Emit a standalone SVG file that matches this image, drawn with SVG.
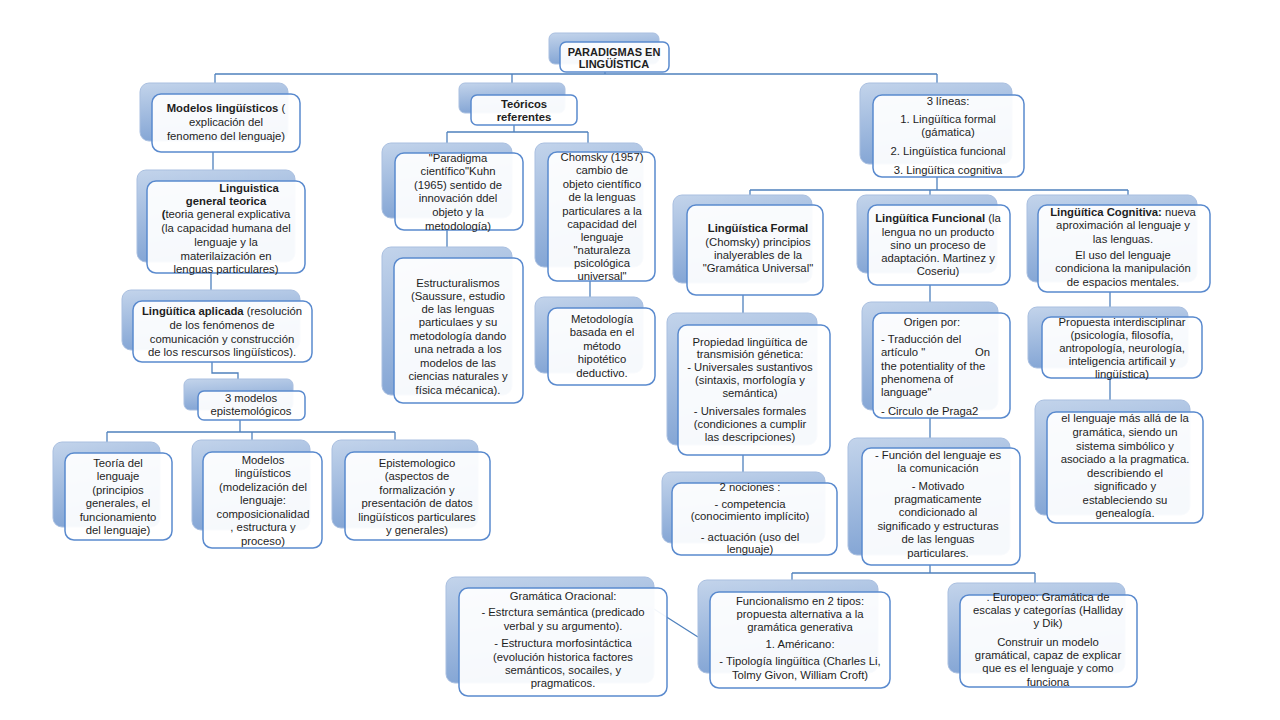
<svg xmlns="http://www.w3.org/2000/svg" width="1280" height="720" viewBox="0 0 1280 720">
<defs>
<linearGradient id="bg" x1="0" y1="0" x2="0.25" y2="1">
<stop offset="0" stop-color="#c3d4eb"/>
<stop offset="1" stop-color="#82a4d4"/>
</linearGradient>
<style>
.b{fill:url(#bg);stroke:#a9bfe0;stroke-width:1}
.f{fill:#ffffff;fill-opacity:0.93;stroke:#5a8ace;stroke-width:1.5}
text{font-family:"Liberation Sans",Arial,sans-serif;font-size:11.3px;fill:#1e1e1e;text-anchor:middle}
.bd{font-weight:bold}
.t{font-size:11px}
.l{text-anchor:start}
.c{fill:none;stroke:#4f81bd;stroke-width:1.3}
</style>
</defs>
<rect width="1280" height="720" fill="#ffffff"/>
<g id="connectors">
<path class="c" d="M605,72V74M215,74H937M215,74V83M512,74V83M937,74V83"/>
<path class="c" d="M213,152V170M211,273V290M212,362V373H238V380"/>
<path class="c" d="M240,420V432M107,432H395M107,432V442M252,432V440M395,432V440"/>
<path class="c" d="M514,125V132M447,132H588M447,132V143M588,132V143M447,230V247M590,281V297"/>
<path class="c" d="M937,177V190M750,190H1128M750,190V195M930,190V195M1128,190V195"/>
<path class="c" d="M743,295V313M743,455V472M930,285V302M930,418V438M1110,292V307M1110,378V400"/>
<path class="c" d="M930,565V573M792,573H1035M792,573V580M1035,573V583M654,609L698,637"/>
</g>
<g id="root">
<rect class="b" x="549" y="33" width="110" height="31" rx="6"/>
<rect class="f" x="560" y="42" width="109" height="30" rx="6"/>
<text class="bd t" x="614" y="56">PARADIGMAS EN</text>
<text class="bd t" x="614" y="68">LINGÜÍSTICA</text>
</g>
<g id="modelos">
<rect class="b" x="140" y="83" width="148" height="58" rx="9"/>
<rect class="f" x="152" y="94" width="148" height="58" rx="9"/>
<text x="226" y="112"><tspan class="bd">Modelos lingüísticos</tspan> (</text>
<text x="226" y="126">explicación del</text>
<text x="226" y="140">fenomeno del lenguaje)</text>
</g>
<g id="teoricos">
<rect class="b" x="459" y="83" width="106" height="30" rx="6"/>
<rect class="f" x="471" y="95" width="106" height="30" rx="6"/>
<text class="bd" x="524" y="108">Teóricos</text>
<text class="bd" x="524" y="121">referentes</text>
</g>
<g id="lineas">
<rect class="b" x="860" y="83" width="152" height="81" rx="9"/>
<rect class="f" x="873" y="95" width="151" height="82" rx="9"/>
<text x="948" y="105">3 líneas:</text>
<text x="948" y="123">1. Lingüítica formal</text>
<text x="948" y="136">(gámatica)</text>
<text x="948" y="155">2. Lingüística funcional</text>
<text x="948" y="174">3. Lingüítica cognitiva</text>
</g>
<g id="general">
<rect class="b" x="137" y="170" width="158" height="92" rx="9"/>
<rect class="f" x="147" y="181" width="158" height="92" rx="9"/>
<text class="bd" x="249" y="192">Linguistica</text>
<text class="bd" x="226" y="205">general teorica</text>
<text x="226" y="218"><tspan class="bd">(</tspan>teoria general explicativa</text>
<text x="226" y="232">(la capacidad humana del</text>
<text x="226" y="246">lenguaje y la</text>
<text x="226" y="260">materilaización en</text>
<text x="226" y="273">lenguas particulares)</text>
</g>
<g id="aplicada">
<rect class="b" x="122" y="290" width="178" height="60" rx="9"/>
<rect class="f" x="133" y="301" width="179" height="61" rx="9"/>
<text x="222" y="315"><tspan class="bd">Lingüítica aplicada</tspan> (resolución</text>
<text x="222" y="329">de los fenómenos de</text>
<text x="222" y="343">comunicación y construcción</text>
<text x="222" y="356">de los rescursos lingüísticos).</text>
</g>
<g id="tresmodelos">
<rect class="b" x="184" y="379" width="109" height="31" rx="6"/>
<rect class="f" x="198" y="391" width="107" height="29" rx="6"/>
<text x="251" y="402">3 modelos</text>
<text x="251" y="415">epistemológicos</text>
</g>
<g id="teoria">
<rect class="b" x="53" y="442" width="107" height="85" rx="9"/>
<rect class="f" x="65" y="453" width="107" height="87" rx="9"/>
<text x="118" y="467">Teoría del</text>
<text x="118" y="480">lenguaje</text>
<text x="118" y="494">(principios</text>
<text x="118" y="507">generales, el</text>
<text x="118" y="521">funcionamiento</text>
<text x="118" y="534">del lenguaje)</text>
</g>
<g id="modelos2">
<rect class="b" x="192" y="440" width="118" height="90" rx="9"/>
<rect class="f" x="203" y="452" width="119" height="96" rx="9"/>
<text x="263" y="464">Modelos</text>
<text x="263" y="477">lingüísticos</text>
<text x="263" y="491">(modelización del</text>
<text x="263" y="504">lenguaje:</text>
<text x="263" y="518">composicionalidad</text>
<text x="263" y="531">, estructura y</text>
<text x="263" y="545">proceso)</text>
</g>
<g id="epistemologico">
<rect class="b" x="332" y="440" width="146" height="88" rx="9"/>
<rect class="f" x="345" y="452" width="145" height="88" rx="9"/>
<text x="417" y="467">Epistemologico</text>
<text x="417" y="480">(aspectos de</text>
<text x="417" y="494">formalización y</text>
<text x="417" y="507">presentación de datos</text>
<text x="417" y="521">lingüísticos particulares</text>
<text x="417" y="534">y generales)</text>
</g>
<g id="kuhn">
<rect class="b" x="382" y="143" width="130" height="75" rx="9"/>
<rect class="f" x="395" y="153" width="128" height="77" rx="9"/>
<text x="458" y="162">"Paradigma</text>
<text x="458" y="175">científico"Kuhn</text>
<text x="458" y="189">(1965) sentido de</text>
<text x="458" y="202">innovación ddel</text>
<text x="458" y="216">objeto y la</text>
<text x="458" y="230">metodología)</text>
</g>
<g id="chomsky">
<rect class="b" x="535" y="143" width="108" height="124" rx="9"/>
<rect class="f" x="548" y="152" width="107" height="129" rx="9"/>
<text x="602" y="161">Chomsky (1957)</text>
<text x="602" y="174">cambio de</text>
<text x="602" y="188">objeto científico</text>
<text x="602" y="201">de la lenguas</text>
<text x="602" y="215">particulares a la</text>
<text x="602" y="228">capacidad del</text>
<text x="602" y="241">lenguaje</text>
<text x="602" y="254">"naturaleza</text>
<text x="602" y="267">psicológica</text>
<text x="602" y="280">universal"</text>
</g>
<g id="estructuralismos">
<rect class="b" x="382" y="247" width="130" height="148" rx="9"/>
<rect class="f" x="394" y="258" width="129" height="145" rx="9"/>
<text x="458" y="287">Estructuralismos</text>
<text x="458" y="300">(Saussure, estudio</text>
<text x="458" y="313">de las lenguas</text>
<text x="458" y="326">particulaes y su</text>
<text x="458" y="340">metodología  dando</text>
<text x="458" y="353">una netrada  a los</text>
<text x="458" y="367">modelos de las</text>
<text x="458" y="380">ciencias naturales y</text>
<text x="458" y="394">física mécanica).</text>
</g>
<g id="metodologia">
<rect class="b" x="535" y="297" width="108" height="76" rx="9"/>
<rect class="f" x="548" y="308" width="107" height="77" rx="9"/>
<text x="602" y="323">Metodología</text>
<text x="602" y="336">basada en el</text>
<text x="602" y="350">método</text>
<text x="602" y="363">hipotético</text>
<text x="602" y="377">deductivo.</text>
</g>
<g id="formal">
<rect class="b" x="673" y="195" width="139" height="88" rx="9"/>
<rect class="f" x="687" y="205" width="136" height="90" rx="9"/>
<text class="bd" x="758" y="232">Lingüística Formal</text>
<text x="758" y="246">(Chomsky) principios</text>
<text x="758" y="259">inalyerables  de la</text>
<text x="758" y="272">"Gramática Universal"</text>
</g>
<g id="funcional">
<rect class="b" x="857" y="195" width="140" height="78" rx="9"/>
<rect class="f" x="868" y="205" width="142" height="80" rx="9"/>
<text x="938" y="222"><tspan class="bd">Lingüítica Funcional</tspan> (la</text>
<text x="938" y="236">lengua no un producto</text>
<text x="938" y="249">sino un proceso de</text>
<text x="938" y="262">adaptación. Martinez y</text>
<text x="938" y="275">Coseriu)</text>
</g>
<g id="cognitiva">
<rect class="b" x="1027" y="195" width="170" height="87" rx="9"/>
<rect class="f" x="1038" y="205" width="172" height="87" rx="9"/>
<text x="1123" y="216"><tspan class="bd">Lingüítica Cognitiva:</tspan> nueva</text>
<text x="1123" y="229">aproximación al lenguaje y</text>
<text x="1123" y="243">las lenguas.</text>
<text x="1123" y="259">El uso del lenguaje</text>
<text x="1123" y="272">condiciona la manipulación</text>
<text x="1123" y="286">de espacios mentales.</text>
</g>
<g id="propuesta">
<rect class="b" x="1028" y="307" width="160" height="61" rx="9"/>
<rect class="f" x="1042" y="317" width="160" height="61" rx="9"/>
<text x="1122" y="326">Propuesta interdisciplinar</text>
<text x="1122" y="339">(psicología, filosofía,</text>
<text x="1122" y="352">antropología, neurología,</text>
<text x="1122" y="365">inteligencia artificail y</text>
<text x="1122" y="378">lingüística)</text>
</g>
<g id="masalla">
<rect class="b" x="1035" y="400" width="155" height="115" rx="9"/>
<rect class="f" x="1047" y="412" width="156" height="111" rx="9"/>
<text x="1125" y="422">el lenguaje más allá de la</text>
<text x="1125" y="436">gramática, siendo un</text>
<text x="1125" y="450">sistema simbólico y</text>
<text x="1125" y="463">asociado a la pragmatica.</text>
<text x="1125" y="477">describiendo el</text>
<text x="1125" y="490">significado y</text>
<text x="1125" y="504">estableciendo su</text>
<text x="1125" y="517">genealogía.</text>
</g>
<g id="propiedad">
<rect class="b" x="667" y="313" width="150" height="132" rx="9"/>
<rect class="f" x="678" y="325" width="152" height="130" rx="9"/>
<text x="750" y="346">Propiedad lingüítica de</text>
<text x="750" y="358">transmisión génetica:</text>
<text x="750" y="371">- Universales sustantivos</text>
<text x="750" y="384">(sintaxis, morfología y</text>
<text x="750" y="397">semántica)</text>
<text x="750" y="415">- Universales formales</text>
<text x="750" y="428">(condiciones a cumplir</text>
<text x="750" y="441">las descripciones)</text>
</g>
<g id="nociones">
<rect class="b" x="662" y="472" width="163" height="71" rx="9"/>
<rect class="f" x="672" y="483" width="165" height="72" rx="9"/>
<text x="750" y="491">2 nociones :</text>
<text x="750" y="508">- competencia</text>
<text x="750" y="520">(conocimiento implícito)</text>
<text x="750" y="541">- actuación (uso del</text>
<text x="750" y="553">lenguaje)</text>
</g>
<g id="origen">
<rect class="b" x="862" y="302" width="136" height="108" rx="9"/>
<rect class="f" x="873" y="313" width="137" height="105" rx="9"/>
<text x="932" y="326">Origen por:</text>
<text class="l" x="881" y="343">- Traducción del</text>
<text class="l" x="881" y="356">artículo "<tspan x="975">On</tspan></text>
<text class="l" x="881" y="370">the potentiality of the</text>
<text class="l" x="881" y="383">phenomena of</text>
<text class="l" x="881" y="396">language"</text>
<text class="l" x="881" y="415">- Circulo de Praga2</text>
</g>
<g id="funcion">
<rect class="b" x="848" y="438" width="162" height="117" rx="9"/>
<rect class="f" x="862" y="448" width="158" height="117" rx="9"/>
<text x="938" y="459">- Función del lenguaje es</text>
<text x="938" y="472">la comunicación</text>
<text x="938" y="490">- Motivado</text>
<text x="938" y="503">pragmaticamente</text>
<text x="938" y="516">condicionado al</text>
<text x="938" y="530">significado y estructuras</text>
<text x="938" y="543">de las lenguas</text>
<text x="938" y="557">particulares.</text>
</g>
<g id="gramatica">
<rect class="b" x="446" y="577" width="208" height="106" rx="9"/>
<rect class="f" x="459" y="588" width="208" height="108" rx="9"/>
<text x="563" y="600">Gramática Oracional:</text>
<text x="563" y="616">- Estrctura semántica (predicado</text>
<text x="563" y="630">verbal y su argumento).</text>
<text x="563" y="647">- Estructura morfosintáctica</text>
<text x="563" y="661">(evolución historica factores</text>
<text x="563" y="674">semánticos, socailes, y</text>
<text x="563" y="687">pragmaticos.</text>
</g>
<g id="funcionalismo">
<rect class="b" x="698" y="580" width="180" height="93" rx="9"/>
<rect class="f" x="710" y="592" width="180" height="96" rx="9"/>
<text x="800" y="605">Funcionalismo en 2 tipos:</text>
<text x="800" y="618">propuesta alternativa a la</text>
<text x="800" y="631">gramática generativa</text>
<text x="800" y="648">1. Américano:</text>
<text x="800" y="665">- Tipología lingüítica (Charles Li,</text>
<text x="800" y="679">Tolmy Givon, William Croft)</text>
</g>
<g id="europeo">
<rect class="b" x="948" y="583" width="177" height="90" rx="9"/>
<rect class="f" x="960" y="595" width="177" height="92" rx="9"/>
<text x="1048" y="601">. Europeo: Gramática de</text>
<text x="1048" y="614">escalas y categorías (Halliday</text>
<text x="1048" y="627">y Dik)</text>
<text x="1048" y="646">Construir un modelo</text>
<text x="1048" y="659">gramátical, capaz de explicar</text>
<text x="1048" y="672">que es el lenguaje y como</text>
<text x="1048" y="686">funciona</text>
</g>
</svg>
